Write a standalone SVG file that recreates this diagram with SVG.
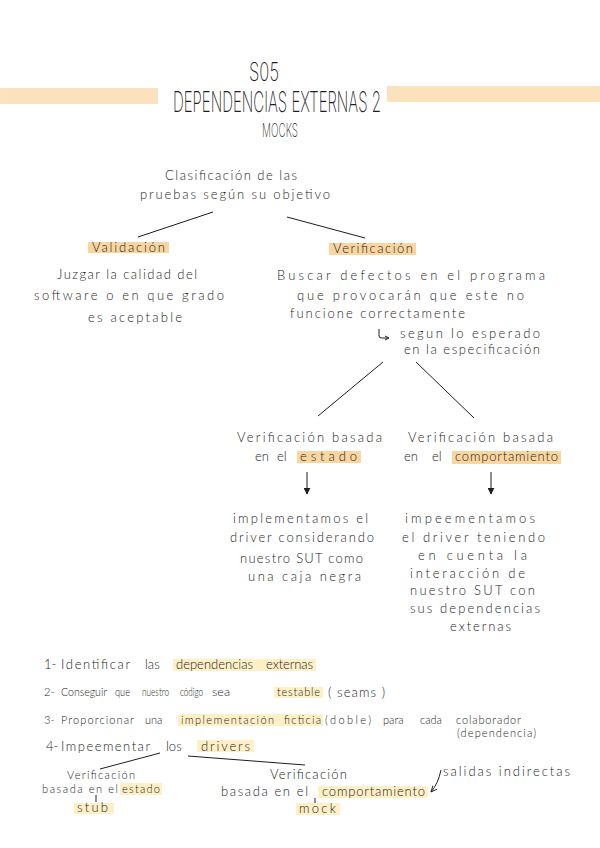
<svg xmlns="http://www.w3.org/2000/svg" width="600" height="848" viewBox="0 0 600 848">
<style>
text{font-family:"Lato","Open Sans","Liberation Sans",sans-serif;font-weight:300;fill:#1e1e1e;font-size:13px}
.t{font-family:"Inter","DejaVu Sans","Liberation Sans",sans-serif;font-weight:200}
.t1{font-size:26px}
.t2{font-size:28px}
.t3{font-size:19px}
.s{font-size:11px}
.xs{font-size:11px}
.hb{fill:#fce2bc}
.ho{fill:#f9d5a0}
.hy{fill:#fdefc6}
.ln{stroke:#1e1e1e;stroke-width:1;fill:none}
</style>
<defs>
<marker id="ah" viewBox="0 0 10 10" refX="9" refY="5" markerWidth="7" markerHeight="7" orient="auto-start-reverse" markerUnits="userSpaceOnUse">
<path d="M0,0 L10,5 L0,10 z" fill="#1e1e1e"/>
</marker>
<marker id="oa" viewBox="0 0 10 10" refX="9" refY="5" markerWidth="7" markerHeight="7" orient="auto" markerUnits="userSpaceOnUse">
<path d="M0,1 L9,5 L0,9" fill="none" stroke="#1e1e1e" stroke-width="1.3"/>
</marker>
</defs>
<rect width="600" height="848" fill="#ffffff"/>

<g id="title">
<rect class="hb" x="0" y="88" width="158" height="16" rx="1"/>
<rect class="hb" x="387" y="86" width="213" height="16" rx="1"/>
<text class="t t1" x="249" y="81" textLength="30" lengthAdjust="spacingAndGlyphs">S05</text>
<text class="t t2" x="173" y="112" textLength="208" lengthAdjust="spacingAndGlyphs">DEPENDENCIAS  EXTERNAS  2</text>
<text class="t t3" x="262" y="137" textLength="36" lengthAdjust="spacingAndGlyphs">MOCKS</text>
</g>

<g id="clasificacion">
<text x="165" y="180" textLength="132" lengthAdjust="spacing">Clasificación de las</text>
<text x="140" y="199" textLength="190" lengthAdjust="spacing">pruebas según su objetivo</text>
</g>

<g id="validacion">
<rect class="ho" x="88" y="242" width="81" height="11"/>
<text x="92" y="252" textLength="73" lengthAdjust="spacing">Validación</text>
<text x="57" y="279" textLength="140" lengthAdjust="spacing">Juzgar la calidad del</text>
<text x="34" y="300" textLength="190" lengthAdjust="spacing">software o en que grado</text>
<text x="88" y="322" textLength="94" lengthAdjust="spacing">es aceptable</text>
</g>

<g id="verificacion">
<rect class="ho" x="329" y="243" width="87" height="12"/>
<text x="333" y="253" textLength="80" lengthAdjust="spacing">Verificación</text>
<text x="277" y="280" textLength="268" lengthAdjust="spacing">Buscar defectos en el programa</text>
<text x="297" y="300" textLength="227" lengthAdjust="spacing">que provocarán que este no</text>
<text x="290" y="318" textLength="175" lengthAdjust="spacing">funcione correctamente</text>
<text x="400" y="338" textLength="140" lengthAdjust="spacing">segun lo esperado</text>
<text x="404" y="354" textLength="136" lengthAdjust="spacing">en la especificación</text>
</g>

<g id="estado">
<rect class="ho" x="297" y="451" width="64" height="12"/>
<text x="237" y="442" textLength="145" lengthAdjust="spacing">Verificación basada</text>
<text x="255" y="461">en</text>
<text x="277" y="461">el</text>
<text x="300" y="461" textLength="57" lengthAdjust="spacing">estado</text>
<text x="233" y="523" textLength="135" lengthAdjust="spacing">implementamos el</text>
<text x="230" y="542" textLength="144" lengthAdjust="spacing">driver considerando</text>
<text x="240" y="563" textLength="123" lengthAdjust="spacing">nuestro SUT como</text>
<text x="248" y="581" textLength="113" lengthAdjust="spacing">una caja negra</text>
</g>

<g id="comportamiento">
<rect class="ho" x="452" y="451" width="109" height="13"/>
<text x="408" y="442" textLength="145" lengthAdjust="spacing">Verificación basada</text>
<text x="404" y="461">en</text>
<text x="432" y="461">el</text>
<text x="455" y="461" textLength="103" lengthAdjust="spacing">comportamiento</text>
<text x="405" y="523" textLength="130" lengthAdjust="spacing">impeementamos</text>
<text x="402" y="542" textLength="143" lengthAdjust="spacing">el driver teniendo</text>
<text x="418" y="560" textLength="109" lengthAdjust="spacing">en cuenta la</text>
<text x="410" y="578" textLength="115" lengthAdjust="spacing">interacción de</text>
<text x="410" y="595" textLength="125" lengthAdjust="spacing">nuestro SUT con</text>
<text x="410" y="613" textLength="130" lengthAdjust="spacing">sus dependencias</text>
<text x="450" y="631" textLength="61" lengthAdjust="spacing">externas</text>
</g>

<g id="paso1">
<rect class="hy" x="173" y="659" width="143" height="12"/>
<text x="44" y="669">1-</text>
<text x="61" y="669" textLength="69" lengthAdjust="spacing">Identificar</text>
<text x="145" y="669">las</text>
<text x="176" y="669" textLength="77" lengthAdjust="spacing">dependencias</text>
<text x="266" y="669" textLength="47" lengthAdjust="spacing">externas</text>
</g>

<g id="paso2">
<rect class="hy" x="274" y="687" width="49" height="11"/>
<text x="44" y="696" class="s">2-</text>
<text x="61" y="696" class="xs" textLength="46" lengthAdjust="spacingAndGlyphs">Conseguir</text>
<text x="115" y="696" class="xs" textLength="15" lengthAdjust="spacingAndGlyphs">que</text>
<text x="142" y="696" class="xs" textLength="27" lengthAdjust="spacingAndGlyphs">nuestro</text>
<text x="180" y="696" class="xs" textLength="23" lengthAdjust="spacingAndGlyphs">código</text>
<text x="212" y="696" class="xs" textLength="18" lengthAdjust="spacingAndGlyphs">sea</text>
<text x="277" y="696" class="s" textLength="43" lengthAdjust="spacing">testable</text>
<text x="328" y="697" textLength="57" lengthAdjust="spacing">( seams )</text>
</g>

<g id="paso3">
<rect class="hy" x="178" y="714" width="145" height="12"/>
<text x="44" y="724" class="s">3-</text>
<text x="61" y="724" class="s" textLength="73" lengthAdjust="spacing">Proporcionar</text>
<text x="145" y="724" class="s">una</text>
<text x="181" y="724" class="s" textLength="93" lengthAdjust="spacing">implementación</text>
<text x="284" y="724" class="s" textLength="37" lengthAdjust="spacing">ficticia</text>
<text x="325" y="724" class="s" textLength="46" lengthAdjust="spacing">(doble)</text>
<text x="383" y="724" class="s">para</text>
<text x="420" y="724" class="s">cada</text>
<text x="456" y="724" class="s" textLength="65" lengthAdjust="spacing">colaborador</text>
<text x="457" y="737" class="s" textLength="79" lengthAdjust="spacing">(dependencia)</text>
</g>

<g id="paso4">
<rect class="hy" x="197" y="740" width="57" height="12"/>
<text x="46" y="751">4-</text>
<text x="61" y="751" textLength="89" lengthAdjust="spacing">Impeementar</text>
<text x="166" y="751">los</text>
<text x="201" y="751" textLength="49" lengthAdjust="spacing">drivers</text>
</g>

<g id="stub">
<rect class="hy" x="120" y="783" width="42" height="12"/>
<rect class="hy" x="74" y="803" width="40" height="11"/>
<text x="67" y="779" class="s" textLength="68" lengthAdjust="spacing">Verificación</text>
<text x="42" y="793" class="s" textLength="76" lengthAdjust="spacing">basada en el</text>
<text x="122" y="793" class="s" textLength="38" lengthAdjust="spacing">estado</text>
<text x="77" y="812" textLength="31" lengthAdjust="spacing">stub</text>
</g>

<g id="mock">
<rect class="hy" x="318" y="786" width="110" height="12"/>
<rect class="hy" x="296" y="803" width="44" height="12"/>
<text x="270" y="779" textLength="77" lengthAdjust="spacing">Verificación</text>
<text x="221" y="796" textLength="87" lengthAdjust="spacing">basada en el</text>
<text x="322" y="796" textLength="103" lengthAdjust="spacing">comportamiento</text>
<text x="299" y="813" textLength="37" lengthAdjust="spacing">mock</text>
</g>

<g id="salidas">
<text x="443" y="776" textLength="127" lengthAdjust="spacing">salidas indirectas</text>
</g>

<g id="connectors">
<line class="ln" x1="213" y1="212" x2="138" y2="237"/>
<line class="ln" x1="287" y1="217" x2="365" y2="238"/>
<path class="ln" d="M379,329 L379,336 Q379,338 382,338 L388,338" stroke-width="0.9"/>
<path class="ln" d="M385,336 L389,338 L385,340" stroke-width="0.9"/>
<line class="ln" x1="383" y1="362" x2="318" y2="416"/>
<line class="ln" x1="416" y1="362" x2="474" y2="418"/>
<line class="ln" x1="307" y1="472" x2="307" y2="494" marker-end="url(#ah)"/>
<line class="ln" x1="491" y1="472" x2="491" y2="494" marker-end="url(#ah)"/>
<line class="ln" x1="160" y1="753" x2="100" y2="769"/>
<line class="ln" x1="188" y1="756" x2="305" y2="765"/>
<line class="ln" x1="96" y1="795" x2="96" y2="802"/>
<line class="ln" x1="315" y1="798" x2="315" y2="803"/>
<path class="ln" d="M441,770 Q438,784 431,792" marker-end="url(#oa)"/>
</g>
</svg>
